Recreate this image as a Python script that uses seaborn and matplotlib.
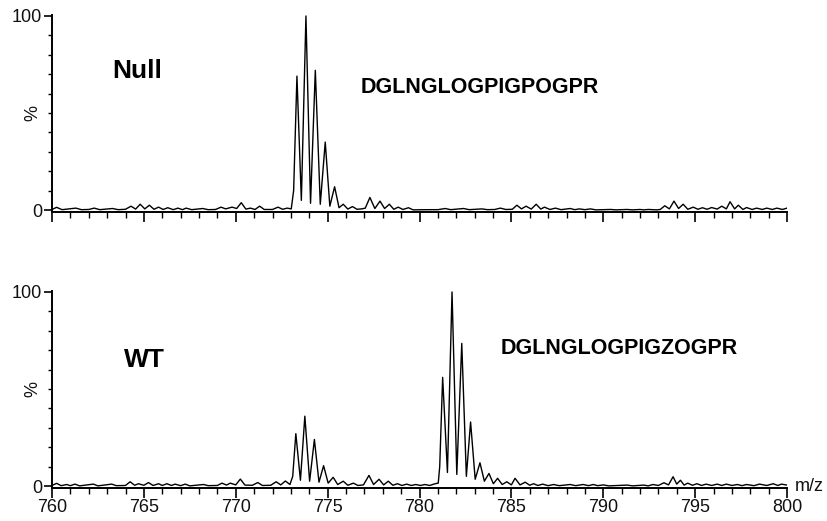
import matplotlib
matplotlib.use("Agg")
import matplotlib.pyplot as plt
import seaborn as sns
import pandas as pd
from matplotlib.ticker import MultipleLocator, FixedLocator

# profile points (m/z, relative intensity %)
null_mz = [760.0, 760.25, 760.55, 761.3, 761.6, 762.0, 762.3, 762.6, 763.3, 763.6,
           764.0, 764.3, 764.55, 764.8, 765.05, 765.3, 765.55, 765.8, 766.05, 766.3,
           766.6, 766.85, 767.1, 767.3, 767.6, 768.2, 768.5, 768.9, 769.2, 769.45,
           769.8, 770.05, 770.3, 770.55, 770.8, 771.05, 771.3, 771.55, 772.0, 772.3,
           772.55, 772.8, 773.02, 773.15, 773.33, 773.57, 773.82, 774.07, 774.33, 774.6,
           774.87, 775.12, 775.38, 775.62, 775.85, 776.1, 776.35, 776.6, 776.85, 777.05,
           777.3, 777.57, 777.85, 778.1, 778.36, 778.6, 778.84, 779.1, 779.4, 779.65,
           780.5, 781.0, 781.4, 781.7, 782.4, 782.7, 783.4, 783.7, 784.1, 784.4,
           784.7, 785.05, 785.3, 785.55, 785.8, 786.08, 786.35, 786.6, 786.8, 787.1,
           787.4, 787.7, 788.2, 788.45, 788.7, 789.0, 789.3, 789.6, 790.4, 790.7,
           791.3, 791.6, 792.0, 792.2, 792.45, 792.9, 793.1, 793.35, 793.6, 793.85,
           794.1, 794.35, 794.6, 794.9, 795.15, 795.4, 795.65, 795.9, 796.2, 796.45,
           796.7, 796.9, 797.15, 797.35, 797.6, 797.8, 798.1, 798.35, 798.65, 798.9,
           799.2, 799.45, 799.75, 800.0]
null_int = [0.3, 1.4, 0.2, 1.0, 0.2, 0.3, 1.0, 0.2, 0.8, 0.2,
            0.4, 2.0, 0.5, 3.0, 0.6, 2.5, 0.4, 1.5, 0.3, 1.2,
            0.2, 1.0, 0.2, 1.0, 0.2, 0.8, 0.2, 0.3, 1.5, 0.6,
            1.5, 0.8, 3.8, 0.5, 1.0, 0.3, 2.0, 0.3, 0.3, 1.5,
            0.4, 1.0, 0.6, 10, 69, 5, 100, 3.5, 72, 3,
            35, 2, 12, 1.2, 3, 0.5, 1.8, 0.4, 0.6, 1.0,
            6.5, 0.8, 4.6, 0.8, 3.0, 0.4, 1.5, 0.3, 1.2, 0.1,
            0.2, 0.2, 0.8, 0.2, 0.8, 0.2, 0.6, 0.2, 0.3, 1.0,
            0.3, 0.4, 2.5, 0.6, 2.0, 0.5, 3.0, 0.5, 1.5, 0.3,
            1.0, 0.2, 0.8, 0.2, 0.6, 0.2, 0.6, 0.1, 0.3, 0.1,
            0.3, 0.1, 0.3, 0.1, 0.3, 0.1, 0.3, 2.2, 0.6, 4.6,
            0.8, 3.0, 0.4, 1.5, 0.4, 1.2, 0.4, 1.3, 0.5, 2.0,
            0.6, 4.3, 0.6, 2.5, 0.3, 1.3, 0.3, 1.0, 0.3, 1.0,
            0.3, 1.0, 0.3, 1.0]

wt_mz = [760.0, 760.25, 760.5, 760.8, 761.0, 761.25, 761.5, 762.25, 762.5, 763.25,
         763.5, 764.0, 764.25, 764.5, 764.7, 765.0, 765.25, 765.5, 765.8, 766.0,
         766.25, 766.5, 766.7, 767.0, 767.25, 767.5, 768.25, 768.5, 769.0, 769.25,
         769.5, 769.7, 770.0, 770.25, 770.5, 770.9, 771.2, 771.45, 771.9, 772.2,
         772.45, 772.7, 772.95, 773.1, 773.27, 773.52, 773.76, 774.02, 774.28, 774.53,
         774.78, 775.03, 775.3, 775.55, 775.85, 776.1, 776.4, 776.65, 776.95, 777.25,
         777.5, 777.8, 778.05, 778.3, 778.55, 778.8, 779.05, 779.3, 779.55, 779.8,
         780.05, 780.3, 780.55, 780.85, 781.02, 781.1, 781.26, 781.52, 781.77, 782.03,
         782.3, 782.55, 782.78, 783.03, 783.29, 783.53, 783.78, 784.02, 784.25, 784.5,
         784.75, 785.0, 785.2, 785.47, 785.75, 786.0, 786.2, 786.45, 786.7, 787.0,
         787.3, 787.6, 788.2, 788.5, 788.9, 789.2, 789.45, 789.7, 790.0, 790.3,
         791.3, 791.6, 792.2, 792.45, 792.7, 793.0, 793.3, 793.55, 793.8, 794.0,
         794.2, 794.4, 794.6, 794.85, 795.1, 795.35, 795.6, 795.9, 796.2, 796.45,
         796.7, 797.0, 797.3, 797.55, 797.8, 798.2, 798.5, 798.9, 799.25, 799.5,
         799.7, 800.0]
wt_int = [0.3, 1.4, 0.2, 0.8, 0.2, 1.0, 0.1, 1.0, 0.1, 1.0,
          0.2, 0.3, 2.2, 0.4, 1.2, 0.4, 1.8, 0.3, 1.2, 0.3,
          1.2, 0.3, 1.0, 0.2, 1.0, 0.1, 0.8, 0.2, 0.3, 1.5,
          0.5, 1.5, 0.6, 3.6, 0.5, 0.4, 1.8, 0.3, 0.4, 2.2,
          0.6, 2.6, 0.8, 5, 27, 3, 36, 2.5, 24, 2,
          10.5, 1.5, 4.5, 0.8, 2.5, 0.4, 1.5, 0.3, 0.6, 5.5,
          0.8, 3.5, 0.6, 2.5, 0.4, 1.2, 0.3, 1.0, 0.3, 0.8,
          0.3, 0.8, 0.3, 1.2, 1.5, 10, 56, 7, 100, 6,
          73.5, 5, 33, 3.5, 12, 2.5, 6.5, 1.2, 4, 0.8,
          2.2, 0.6, 4, 0.6, 2.0, 0.4, 1.2, 0.3, 1.0, 0.2,
          0.8, 0.2, 0.8, 0.2, 0.8, 0.2, 0.8, 0.2, 0.6, 0.1,
          0.5, 0.1, 0.5, 0.1, 0.8, 0.3, 1.7, 0.6, 4.8, 1.0,
          3.0, 0.5, 1.5, 0.4, 1.2, 0.3, 1.0, 0.3, 1.0, 0.3,
          1.0, 0.3, 0.8, 0.2, 0.8, 0.2, 1.0, 0.3, 1.2, 0.3,
          1.0, 0.5]

panel_names = ["Null", "WT"]
peptides = ["DGLNGLOGPIGPOGPR", "DGLNGLOGPIGZOGPR"]
y_ticks = [0, 100]
x_ticks = [760, 765, 770, 775, 780, 785, 790, 795, 800]

sns.set_style("ticks")
plt.rcParams['font.family'] = ['Liberation Sans', 'DejaVu Sans']

fig = plt.figure(figsize=(8.27, 5.21), dpi=100)
W, H = 827, 521
ax_top = fig.add_axes([52 / W, 1 - 212 / H, 735 / W, 197 / H])
ax_bot = fig.add_axes([52 / W, 1 - 488 / H, 735 / W, 197 / H])

spectra = [(null_mz, null_int), (wt_mz, wt_int)]
name_pos = [(763.3, 71.5), (763.9, 65)]
pep_pos = [(776.8, 63), (784.4, 71)]

for i, ax in enumerate([ax_top, ax_bot]):
    mz, inten = spectra[i]
    df = pd.DataFrame({"mz": mz, "intensity": inten})
    sns.lineplot(data=df, x="mz", y="intensity", ax=ax, color="black",
                 linewidth=1.0, estimator=None, sort=False)
    ax.set_xlim(760, 800)
    ax.set_ylim(-1, 100.5)
    sns.despine(ax=ax)
    for s in ["left", "bottom"]:
        ax.spines[s].set_linewidth(1.4)
        ax.spines[s].set_color("black")
    ax.xaxis.set_major_locator(FixedLocator(x_ticks))
    ax.xaxis.set_minor_locator(MultipleLocator(1))
    ax.yaxis.set_major_locator(FixedLocator(y_ticks))
    ax.yaxis.set_minor_locator(MultipleLocator(10))
    ax.tick_params(axis="both", which="major", length=7, width=1.2, color="black",
                   labelsize=13, labelcolor="#111111", pad=1)
    ax.tick_params(axis="both", which="minor", length=4, width=1.0, color="black")
    ax.tick_params(axis="y", which="minor", length=3)
    ax.tick_params(axis="y", which="major", length=6)
    ax.set_xlabel("")
    ax.set_ylabel("")
    ax.text(-0.026, 50, "%", transform=ax.get_yaxis_transform(), rotation=90,
            ha="center", va="center", fontsize=13, color="#111111")
    ax.text(name_pos[i][0], name_pos[i][1], panel_names[i], fontsize=19,
            fontweight="bold", ha="left", va="center", color="black")
    ax.text(pep_pos[i][0], pep_pos[i][1], peptides[i], fontsize=15.5,
            fontweight="bold", ha="left", va="center", color="black")

ax_top.tick_params(axis="x", labelbottom=False)
ax_bot.text(1.01, 0.01, "m/z", transform=ax_bot.transAxes, ha="left", va="center",
            fontsize=13, color="#111111")

fig.savefig("out.png", dpi=100)
